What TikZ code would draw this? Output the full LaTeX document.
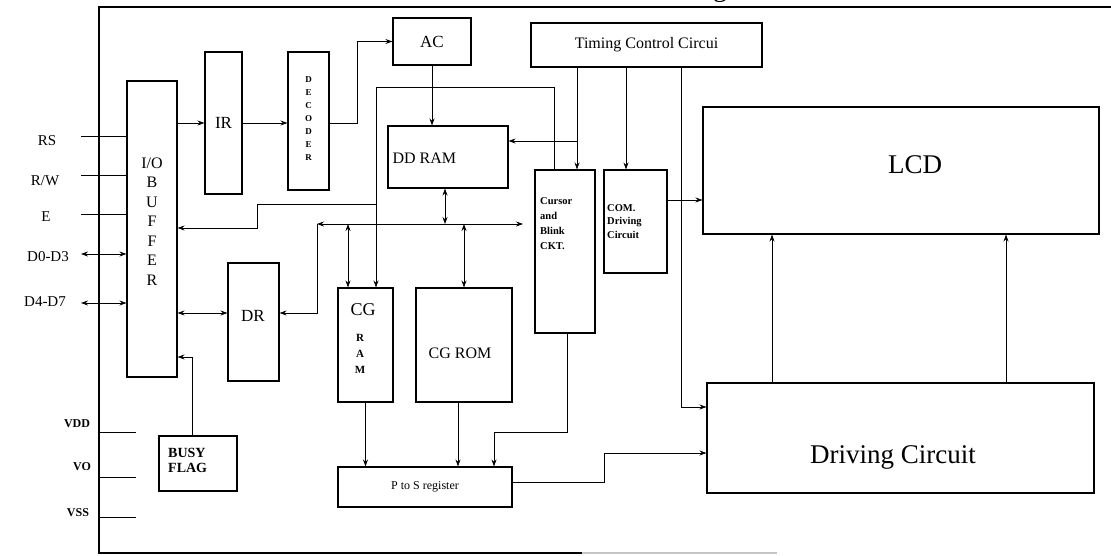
\documentclass[tikz,border=0pt]{standalone}
\usepackage{fontspec}
\setmainfont{Liberation Serif}
\usetikzlibrary{arrows.meta}
\begin{document}
\begin{tikzpicture}[x=1pt,y=-1pt,
  box/.style={draw, line width=1.1pt, inner sep=0pt, font=\fontsize{17}{20}\selectfont},
  conn/.style={line width=0.8pt},
  arr/.style={conn, -{Stealth[length=7pt,width=5pt]}},
  darr/.style={conn, {Stealth[length=7pt,width=5pt]}-{Stealth[length=7pt,width=5pt]}},
  pin/.style={font=\fontsize{15}{18}\selectfont},
  pwr/.style={font=\bfseries\fontsize{12}{14}\selectfont},
  frame/.style={line width=1.4pt}]
\useasboundingbox (0,0) rectangle (1111,556);
% outer frame
\draw[frame] (1111,7) -- (99,7) -- (99,553) -- (582,553);
\draw[frame, gray!45] (582,553) -- (777,553);
\node[font=\fontsize{28}{30}\selectfont, anchor=base] (ttl) at (720,-3) {g};
% boxes
\node[box, minimum width=50pt, minimum height=296pt] (io) at (152,229) {};
\node[font=\fontsize{16}{19.5}\selectfont, align=center] (iot) at (152,221.5) {I/O\\B\\U\\F\\F\\E\\R};
\node[box, minimum width=37pt, minimum height=142pt] (ir) at (223.5,123) {IR};
\node[box, minimum width=41pt, minimum height=138pt] (dec) at (308.5,121) {};
\node[font=\bfseries\fontsize{9}{13}\selectfont, align=center] (dect) at (308.5,119) {D\\E\\C\\O\\D\\E\\R};
\node[box, minimum width=78pt, minimum height=47pt] (ac) at (432,41.5) {AC};
\node[box, minimum width=231pt, minimum height=44pt, font=\fontsize{16}{18}\selectfont] (tim) at (646.5,45) {Timing Control Circui};
\node[box, minimum width=120pt, minimum height=62pt] (dd) at (448,157) {};
\node[font=\fontsize{16}{18}\selectfont, anchor=west] (ddt) at (389,158) {DD RAM};
\node[box, minimum width=60pt, minimum height=163pt] (cur) at (565,251.5) {};
\node[font=\bfseries\fontsize{10.5}{15}\selectfont, align=left, anchor=north west, inner sep=0pt] (curt) at (540,197) {Cursor\\and\\Blink\\CKT.};
\node[box, minimum width=63pt, minimum height=103pt] (com) at (635.5,221.5) {};
\node[font=\bfseries\fontsize{10.5}{13.5}\selectfont, align=left, anchor=north west, inner sep=0pt] (comt) at (607,204) {COM.\\Driving\\Circuit};
\node[box, minimum width=396pt, minimum height=127pt] (lcd) at (901,170.5) {};
\node[font=\fontsize{27}{30}\selectfont] (lcdt) at (915,165) {LCD};
\node[box, minimum width=387pt, minimum height=110pt] (drv) at (900.5,438) {};
\node[font=\fontsize{27}{30}\selectfont] (drvt) at (893,457) {Driving Circuit};
\node[box, minimum width=51pt, minimum height=118pt] (dr) at (253.5,322) {};
\node[font=\fontsize{17}{20}\selectfont] (drt) at (253,316) {DR};
\node[box, minimum width=55pt, minimum height=114pt] (cgram) at (365.5,345) {};
\node[font=\fontsize{18}{20}\selectfont] (cgt) at (363,310) {CG};
\node[font=\bfseries\fontsize{11}{16}\selectfont, align=center] (ramt) at (360,354) {R\\A\\M};
\node[box, minimum width=96pt, minimum height=114pt, font=\fontsize{16}{18}\selectfont] (cgrom) at (464,345) {};
\node[font=\fontsize{16}{18}\selectfont] (cgromt) at (460,353) {CG ROM};
\node[box, minimum width=174pt, minimum height=40pt, font=\fontsize{12}{14}\selectfont] (pts) at (425,487) {P to S register};
\node[box, minimum width=78pt, minimum height=55pt] (busy) at (198,463.5) {};
\node[font=\bfseries\fontsize{14}{15}\selectfont, align=left, anchor=west, inner sep=0pt] (busyt) at (168,460) {BUSY\\FLAG};
% pin labels
\node[pin] (lrs) at (47,141) {RS};
\node[pin] (lrw) at (45,181) {R/W};
\node[pin] (le) at (46,217) {E};
\node[pin] (ld03) at (48,257) {D0-D3};
\node[pin] (ld47) at (45,302) {D4-D7};
\node[pwr] (lvdd) at (77,424) {VDD};
\node[pwr] (lvo) at (82,467) {VO};
\node[pwr] (lvss) at (78,513) {VSS};
% helper coordinates
\coordinate (prs) at (81,136);
\coordinate (prw) at (81,175);
\coordinate (pe) at (81,214);
\coordinate (p03) at (81,254);
\coordinate (p47) at (81,303);
\coordinate (vdd) at (99,432);
\coordinate (vo) at (99,477);
\coordinate (vss) at (99,517);
\coordinate (pend) at (136,0);
\coordinate (busL) at (317,224);
\coordinate (busR) at (523,224);
\coordinate (x348) at (348,0);
\coordinate (x445) at (445,0);
\coordinate (loopTR) at (554,87);
\coordinate (loopTL) at (376,87);
\coordinate (brA) at (376,204);
\coordinate (brB) at (257,228);
\coordinate (x577) at (577,0);
\coordinate (tb) at (577,141);
\coordinate (x626) at (626,0);
\coordinate (tdv) at (681,407);
\coordinate (y200) at (0,200);
\coordinate (x772) at (772,0);
\coordinate (x1006) at (1006,0);
\coordinate (cp1) at (567,432);
\coordinate (cp2) at (494,432);
\coordinate (x458) at (458,0);
\coordinate (pd1) at (604,482);
\coordinate (pd2) at (604,453);
\coordinate (bi) at (192,357);
\coordinate (ydr) at (0,313);
% pin connectors
\draw[conn] (prs) -- (prs -| io.west);
\draw[conn] (prw) -- (prw -| io.west);
\draw[conn] (pe) -- (pe -| io.west);
\draw[darr] (p03) -- (p03 -| io.west);
\draw[darr] (p47) -- (p47 -| io.west);
\draw[conn] (vdd) -- (vdd -| pend);
\draw[conn] (vo) -- (vo -| pend);
\draw[conn] (vss) -- (vss -| pend);
% internal connectors
\draw[arr] (ir.west -| io.east) -- (ir.west);
\draw[arr] (ir.east) -- (ir.east -| dec.west);
\draw[arr] (dec.east |- ir.east) -- ++(28,0) |- (ac.west);
\draw[arr] (ac.south) -- (ac.south |- dd.north);
\draw[darr] (x445 |- dd.south) -- (x445 |- busL);
\draw[darr] (busL) -- (busR);
\draw[arr] (busL) -- (busL |- ydr) -- (ydr -| dr.east);
\draw[darr] (ydr -| io.east) -- (ydr -| dr.west);
\draw[darr] (x348 |- busL) -- (x348 |- cgram.north);
\draw[darr] (cgrom.north |- busL) -- (cgrom.north);
\draw[arr] (loopTR |- cur.north) -- (loopTR) -- (loopTL) -- (loopTL |- cgram.north);
\draw[arr] (brA) -| (brB) -- (brB -| io.east);
\draw[arr] (x577 |- tim.south) -- (x577 |- cur.north);
\draw[arr] (tb) -- (tb -| dd.east);
\draw[arr] (x626 |- tim.south) -- (x626 |- com.north);
\draw[arr] (tdv |- tim.south) -- (tdv) -- (tdv -| drv.west);
\draw[arr] (y200 -| com.east) -- (y200 -| lcd.west);
\draw[arr] (x772 |- drv.north) -- (x772 |- lcd.south);
\draw[arr] (x1006 |- drv.north) -- (x1006 |- lcd.south);
\draw[arr] (cp1 |- cur.south) -- (cp1) -- (cp2) -- (cp2 |- pts.north);
\draw[arr] (cgram.south) -- (cgram.south |- pts.north);
\draw[arr] (x458 |- cgrom.south) -- (x458 |- pts.north);
\draw[arr] (pd1 -| pts.east) -- (pd1) -- (pd2) -- (pd2 -| drv.west);
\draw[arr] (bi |- busy.north) -- (bi) -- (bi -| io.east);
\end{tikzpicture}
\end{document}
